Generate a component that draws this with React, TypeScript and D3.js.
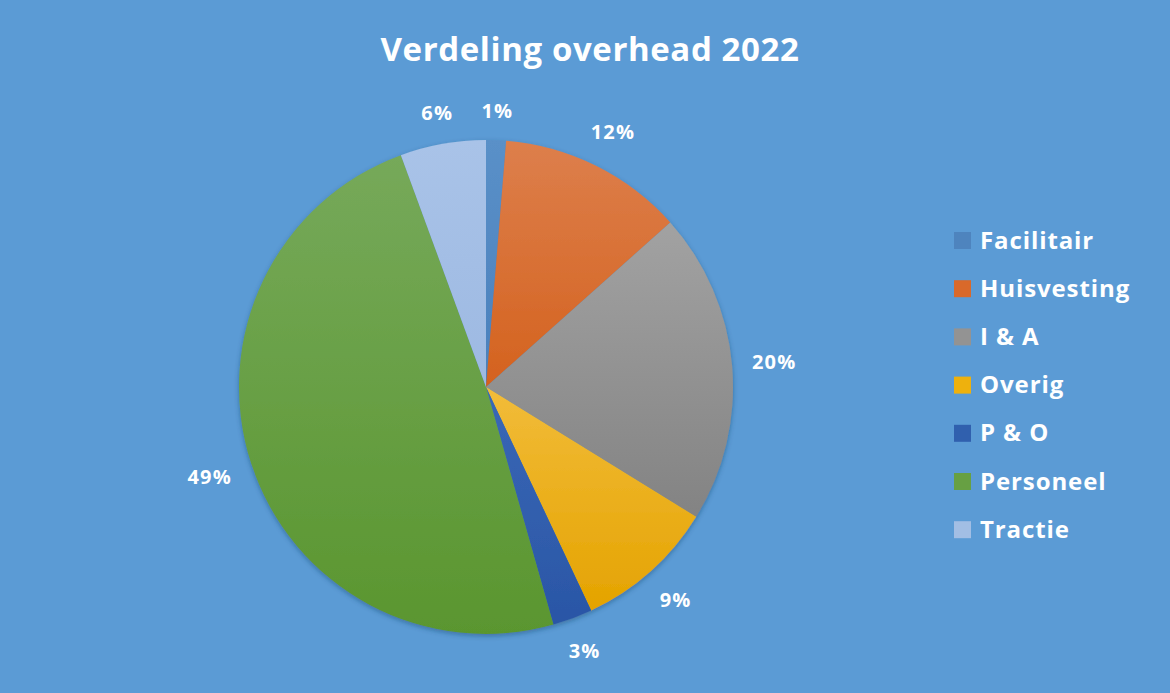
import React from "react";
import * as d3 from "d3";

const categories = ["Facilitair", "Huisvesting", "I & A", "Overig", "P & O", "Personeel", "Tractie"];
const values = [1.3, 12.1, 20.4, 9.2, 2.6, 48.8, 5.6];
const labels = ["1%", "12%", "20%", "9%", "3%", "49%", "6%"];
const colorsTop = ["#5A90C8", "#DD7F4C", "#A2A2A2", "#F2BC3A", "#3A68B6", "#76A95A", "#A9C3E8"];
const colorsBottom = ["#4A80BC", "#D4621E", "#838383", "#E4A300", "#2A56A6", "#5A962F", "#9DB9E2"];
const legendColors = ["#4E84BE", "#D9692A", "#939393", "#EEB10D", "#3060AE", "#67A043", "#A2BEE4"];

const W = 1170;
const H = 693;
const cx = 486;
const cy = 387;
const R = 247;
const FONT = "'Open Sans', Lato, sans-serif";

export default function App() {
  const pie = d3.pie<number>().sort(null).value((d) => d);
  const arcs = pie(values);
  const arcGen = d3.arc<d3.PieArcDatum<number>>().innerRadius(0).outerRadius(R);
  const labelW = (s: string) => (s.length === 3 ? 45 : 34);
  const labelH = 20;
  const pad = 19;

  return (
    <svg width={W} height={H} style={{ position: "absolute", left: 0, top: 0 }}>
      <defs>
        {categories.map((c, i) => (
          <linearGradient key={c} id={`g${i}`} x1="0" y1="0" x2="0" y2="1">
            <stop offset="0%" stopColor={colorsTop[i]} />
            <stop offset="100%" stopColor={colorsBottom[i]} />
          </linearGradient>
        ))}
        <filter id="shadow" x="-10%" y="-10%" width="120%" height="125%">
          <feDropShadow dx="0" dy="2" stdDeviation="2.5" floodColor="#1d3f66" floodOpacity="0.45" />
        </filter>
      </defs>
      <rect x={0} y={0} width={W} height={H} fill="#5B9BD5" />
      <text x={590} y={61} textAnchor="middle" fill="#FFFFFF" fontFamily={FONT} fontWeight="bold" fontSize={33} letterSpacing={0.6}>
        Verdeling overhead 2022
      </text>
      <g transform={`translate(${cx},${cy})`} filter="url(#shadow)">
        {arcs.map((a, i) => (
          <path key={categories[i]} d={arcGen(a) || ""} fill={`url(#g${i})`} />
        ))}
      </g>
      <g transform={`translate(${cx},${cy})`}>
        {arcs.map((a, i) => {
          const mid = (a.startAngle + a.endAngle) / 2;
          const s = Math.sin(mid);
          const c = Math.cos(mid);
          const ext = Math.abs(s) * labelW(labels[i]) / 2 + Math.abs(c) * labelH / 2;
          const d = R + pad + ext;
          const x = s * d;
          const y = -c * d;
          return (
            <text
              key={labels[i]}
              x={x}
              y={y}
              dy="0.36em"
              textAnchor="middle"
              fill="#FFFFFF"
              fontFamily={FONT}
              fontWeight="bold"
              fontSize={20}
              letterSpacing={1.2}
            >
              {labels[i]}
            </text>
          );
        })}
      </g>
      <g transform="translate(954,240)">
        {categories.map((c, i) => (
          <g key={c} transform={`translate(0,${i * 48.2})`}>
            <rect x={0} y={-8} width={17} height={17} fill={legendColors[i]} />
            <text x={26} y={0} dy="0.36em" fill="#FFFFFF" fontFamily={FONT} fontWeight="bold" fontSize={24} letterSpacing={0.9}>
              {c}
            </text>
          </g>
        ))}
      </g>
    </svg>
  );
}
